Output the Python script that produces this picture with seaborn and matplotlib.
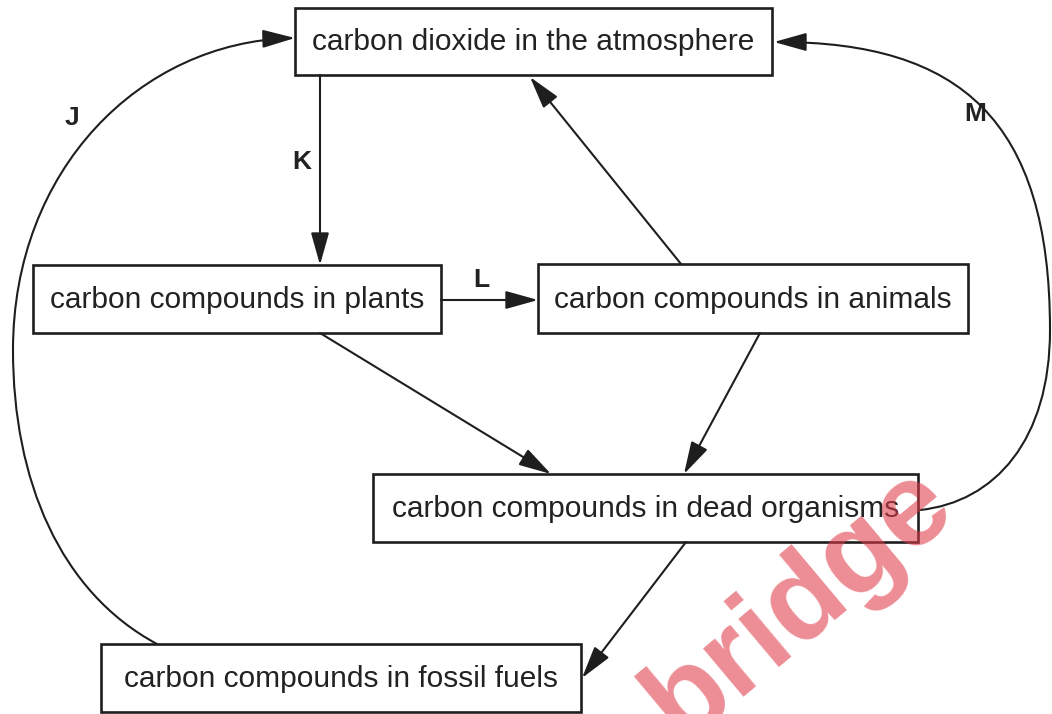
import seaborn as sns
import matplotlib.pyplot as plt
from matplotlib.patches import Rectangle, FancyArrowPatch
from matplotlib.path import Path

# box texts
box_names = ["atmosphere", "plants", "animals", "dead", "fossil"]
box_texts = ["carbon dioxide in the atmosphere",
             "carbon compounds in plants",
             "carbon compounds in animals",
             "carbon compounds in dead organisms",
             "carbon compounds in fossil fuels"]
# arrow labels
arrow_labels = ["J", "K", "L", "M"]

sns.set_theme(style="white")
plt.rcParams['font.family'] = ['Liberation Sans', 'DejaVu Sans']

# layout in pixel coords: x0, y0, x1, y1
boxes = {
    "atmosphere": (295, 8, 772, 75),
    "plants": (33, 265, 441, 333),
    "animals": (538, 264, 968, 333),
    "dead": (373, 474, 918, 542),
    "fossil": (101, 644, 581, 712),
}
ink = "#1e1e1e"

fig = plt.figure(figsize=(10.52, 7.14), dpi=100)
ax = fig.add_axes([0, 0, 1, 1])
ax.set_xlim(0, 1052)
ax.set_ylim(714, 0)
ax.axis("off")

for name, txt in zip(box_names, box_texts):
    x0, y0, x1, y1 = boxes[name]
    ax.add_patch(Rectangle((x0, y0), x1 - x0, y1 - y0, facecolor="white",
                           edgecolor=ink, lw=1.9, zorder=2))
    ax.text((x0 + x1) / 2, (y0 + y1) / 2 + 1, txt, ha="center", va="center",
            fontsize=21.5, color="#222222", zorder=3)

style = "-|>,head_length=20,head_width=5.6"

def arrow(path_pts, codes=None):
    if codes is None:
        p = Path(path_pts)
    else:
        p = Path(path_pts, codes)
    a = FancyArrowPatch(path=p, arrowstyle=style, mutation_scale=1,
                        color=ink, lw=1.5, shrinkA=0, shrinkB=0, zorder=4)
    ax.add_patch(a)

# straight arrows
arrow([(320, 75), (320, 265)])          # K
arrow([(441, 300), (538, 300)])         # L
arrow([(681, 264), (530, 77)])          # animals -> atmosphere
arrow([(320, 333), (551, 474)])         # plants -> dead
arrow([(760, 333), (684, 474)])         # animals -> dead
arrow([(686, 542), (582, 678)])         # dead -> fossil

C = Path.CURVE4
# J curve: fossil -> atmosphere
arrow([(157, 644), (60, 592), (13, 480), (13, 350),
       (13, 170), (140, 42), (295, 38)],
      [Path.MOVETO, C, C, C, C, C, C])
# M curve: dead -> atmosphere
arrow([(920, 510), (995, 502), (1050, 440), (1050, 330),
       (1050, 120), (960, 42), (774, 42)],
      [Path.MOVETO, C, C, C, C, C, C])

label_pos = {"J": (72, 118), "K": (302, 162), "L": (481, 280), "M": (975, 114)}
for lab in arrow_labels:
    x, y = label_pos[lab]
    ax.text(x, y, lab, ha="center", va="center", fontsize=19,
            fontweight="bold", color="#222222", zorder=3)

# watermark
ax.text(800, 604, "bridge", ha="center", va="center", fontsize=85,
        fontweight="bold", color="#e03a48", alpha=0.58, rotation=40,
        rotation_mode="anchor", zorder=6)

plt.savefig("out.png", dpi=100)
